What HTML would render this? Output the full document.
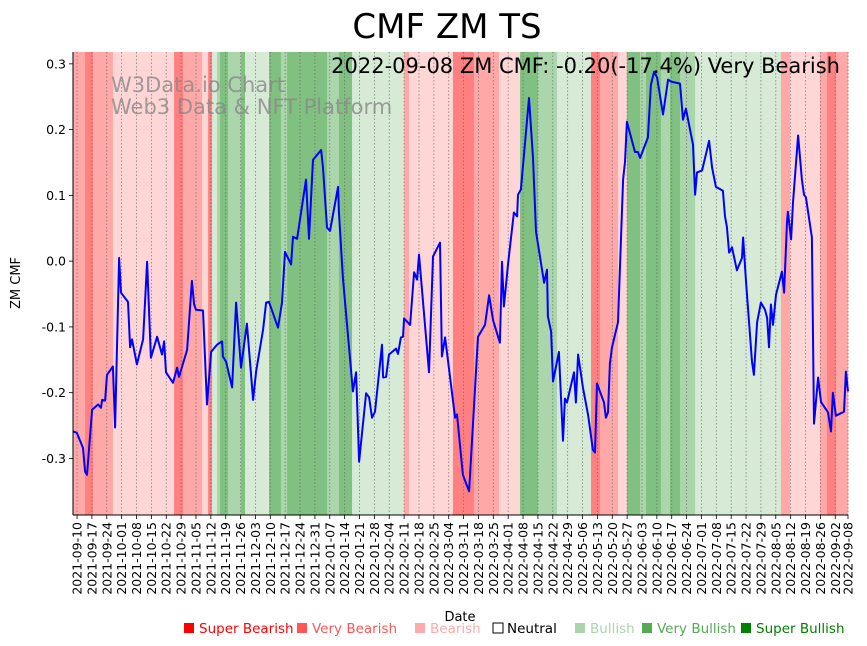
<!DOCTYPE html>
<html><head><meta charset="utf-8"><style>
body{margin:0;background:#fff;}
svg{display:block;font-family:"DejaVu Sans","Liberation Sans",sans-serif;}
</style></head><body>
<svg id="chart" width="867" height="646" viewBox="0 0 867 646" xmlns="http://www.w3.org/2000/svg">
<rect width="867" height="646" fill="#fff"/>
<g id="bands"></g>
<g id="grid"></g>
<g id="series"></g>
<g id="axes"></g>
<text x="447" y="38" text-anchor="middle" font-size="34">CMF ZM TS</text>
<text x="840" y="73" text-anchor="end" font-size="21">2022-09-08 ZM CMF: -0.20(-17.4%) Very Bearish</text>
<text x="111" y="92" font-size="21" fill="#888" fill-opacity="0.8">W3Data.io Chart</text>
<text x="111" y="114" font-size="21" fill="#888" fill-opacity="0.8">Web3 Data &amp; NFT Platform</text>
<text transform="translate(20,283) rotate(-90)" text-anchor="middle" font-size="13">ZM CMF</text>
<text x="460" y="621" text-anchor="middle" font-size="13">Date</text>
<g font-size="13.5">
<g><rect x="184" y="623" width="10" height="10" fill="#ff0000"/><text x="199" y="633" fill="#ff0000">Super Bearish</text></g>
<g><rect x="297" y="623" width="10" height="10" fill="#ff5555"/><text x="312" y="633" fill="#ff5555">Very Bearish</text></g>
<g><rect x="415" y="623" width="10" height="10" fill="#ffaaaa"/><text x="430" y="633" fill="#ffaaaa">Bearish</text></g>
<g><rect x="493" y="623" width="10" height="10" fill="#fff" stroke="#000"/><text x="507" y="633" fill="#000">Neutral</text></g>
<g><rect x="575" y="623" width="10" height="10" fill="#aad4aa"/><text x="590" y="633" fill="#aad4aa">Bullish</text></g>
<g><rect x="642" y="623" width="10" height="10" fill="#55aa55"/><text x="657" y="633" fill="#55aa55">Very Bullish</text></g>
<g><rect x="741" y="623" width="10" height="10" fill="#008000"/><text x="756" y="633" fill="#008000">Super Bullish</text></g>
</g>
</svg>
<script>
// day offsets from 2021-09-10
const days = [-1.7,-0.1,2.8,3.8,4.7,7.1,9.9,11.3,11.8,13.2,14.1,16.9,17.9,19.8,20.7,24.0,25.0,25.9,28.2,31.1,33.0,34.8,37.7,40.0,41.0,41.9,45.2,47.1,48.0,51.8,54.1,55.1,56.0,59.3,61.2,63.1,65.9,68.3,68.7,70.2,73.0,74.9,77.2,80.0,82.9,84.3,87.6,89.0,90.4,94.6,96.5,97.9,100.8,101.7,103.6,107.8,109.2,111.1,114.9,115.8,117.7,119.1,122.9,123.3,125.2,129.9,131.4,132.8,136.1,137.5,138.9,140.3,143.6,144.1,145.5,146.9,150.2,151.1,152.5,153.5,154.0,156.8,158.7,160.1,161.0,165.7,167.6,170.9,171.8,173.3,178.0,178.9,181.7,184.6,188.8,192.1,194.0,195.9,199.1,200.1,201.0,202.9,205.7,207.2,207.6,209.0,212.8,214.7,216.1,219.9,221.3,221.7,223.2,224.1,226.9,228.8,229.7,230.7,234.0,234.9,235.9,238.2,240.6,242.9,243.9,244.8,248.1,249.0,250.0,250.9,251.9,254.7,257.1,258.0,258.9,262.7,264.1,265.1,268.8,270.2,271.7,273.1,275.9,278.3,279.7,283.9,285.3,286.7,290.0,291.0,291.9,294.3,297.6,299.0,300.8,304.1,305.1,306.0,307.0,308.4,310.7,313.1,313.6,315.0,317.8,318.7,320.2,322.0,323.9,324.9,325.8,326.7,327.7,329.1,331.9,332.9,334.3,334.7,336.2,337.1,339.5,341.3,342.3,343.2,346.0,347.0,348.9,350.3,353.6,355.0,355.9,357.3,361.1,362.0,363.0];
const cmfValues = [-0.259,-0.261,-0.284,-0.320,-0.325,-0.226,-0.218,-0.223,-0.211,-0.212,-0.173,-0.160,-0.253,0.005,-0.048,-0.062,-0.131,-0.119,-0.157,-0.119,-0.001,-0.147,-0.115,-0.142,-0.122,-0.169,-0.185,-0.162,-0.176,-0.135,-0.030,-0.066,-0.074,-0.075,-0.218,-0.138,-0.127,-0.122,-0.145,-0.153,-0.192,-0.063,-0.162,-0.095,-0.211,-0.168,-0.104,-0.063,-0.062,-0.101,-0.063,0.014,-0.005,0.037,0.034,0.124,0.034,0.154,0.169,0.142,0.051,0.046,0.113,0.075,-0.025,-0.198,-0.169,-0.305,-0.201,-0.207,-0.238,-0.229,-0.127,-0.177,-0.176,-0.142,-0.133,-0.141,-0.116,-0.115,-0.087,-0.097,-0.017,-0.028,0.010,-0.169,0.007,0.028,-0.145,-0.116,-0.238,-0.233,-0.325,-0.350,-0.115,-0.097,-0.052,-0.090,-0.124,-0.001,-0.069,-0.005,0.074,0.068,0.101,0.109,0.248,0.157,0.045,-0.033,-0.013,-0.084,-0.107,-0.183,-0.138,-0.273,-0.209,-0.215,-0.169,-0.215,-0.142,-0.192,-0.233,-0.287,-0.291,-0.186,-0.215,-0.238,-0.230,-0.156,-0.131,-0.093,0.124,0.151,0.212,0.166,0.166,0.157,0.188,0.268,0.288,0.279,0.223,0.276,0.273,0.270,0.215,0.232,0.177,0.101,0.135,0.138,0.183,0.142,0.113,0.107,0.068,0.052,0.013,0.021,-0.014,0.005,0.036,-0.033,-0.153,-0.173,-0.093,-0.063,-0.074,-0.086,-0.131,-0.066,-0.097,-0.051,-0.016,-0.048,0.059,0.075,0.033,0.089,0.191,0.124,0.101,0.097,0.036,-0.247,-0.177,-0.214,-0.230,-0.259,-0.200,-0.235,-0.229,-0.168,-0.198];
// signal bands: end day and level (-3..3), start is previous end
const bandEnds = [3.8,7.5,16.9,45.7,49.9,58.9,61.7,63.6,65.9,67.3,71.1,77.2,79.1,90.4,96.0,98.9,117.7,123.3,129.5,154.0,156.3,177.0,186.9,198.7,208.6,217.0,226.0,242.0,246.2,254.7,258.9,265.1,267.9,274.9,279.2,283.9,291.0,331.4,335.7,349.8,353.1,357.3,363.0];
const bandLevels = [-2,-3,-2,-1,-3,-2,-1,-3,1,2,3,2,3,1,3,2,3,2,3,1,-2,-1,-3,-2,-1,3,2,1,-3,-2,-1,3,2,3,2,3,2,1,-2,-1,-2,-3,-2];
const yTicks = [-0.3,-0.2,-0.1,0.0,0.1,0.2,0.3];

const NS="http://www.w3.org/2000/svg";
const X0=73,X1=848,Y0=52,Y1=515,D0=-1.9,D1=363.0,V0=-0.386,V1=0.318;
function xs(d){return X0+(d-D0)/(D1-D0)*(X1-X0);}
function ys(v){return Y1-(v-V0)/(V1-V0)*(Y1-Y0);}
function mk(tag,attrs,parent){const e=document.createElementNS(NS,tag);for(const k in attrs)e.setAttribute(k,attrs[k]);parent.appendChild(e);return e;}
const colors={"-3":"#ff8080","-2":"#ffa8a8","-1":"#ffd6d6","1":"#d6ead6","2":"#abd5ab","3":"#80c080"};
const bands=document.getElementById('bands');
let start=D0;
bandEnds.forEach((end,i)=>{
  const r=mk('rect',{x:xs(start),y:Y0,width:Math.max(0,xs(end)-xs(start))+0.3,height:Y1-Y0,fill:colors[bandLevels[i]]},bands);
  
  
  start=end;
});
const grid=document.getElementById('grid'),axes=document.getElementById('axes');
const base=Date.UTC(2021,8,10);
const tickDays=[];for(let d=0;d<=357;d+=7)tickDays.push(d);tickDays.push(363);
tickDays.forEach(d=>{
  const x=xs(d);
  const gl=mk('line',{x1:x,x2:x,y1:Y0,y2:Y1,stroke:'#666','stroke-width':0.8,'stroke-dasharray':'1.5,2','stroke-opacity':0.8},grid);
  
  
  mk('line',{x1:x,x2:x,y1:Y1,y2:Y1+4,stroke:'#000','stroke-width':0.8},axes);
  const dt=new Date(base+d*86400000);
  const s=dt.toISOString().slice(0,10);
  const t=mk('text',{transform:`translate(${x+4.5},${Y1+7}) rotate(-90)`,'text-anchor':'end','font-size':12.5},axes);
  t.textContent=s;
  
  
});
yTicks.forEach(v=>{
  const y=ys(v);
  mk('line',{x1:X0-4,x2:X0,y1:y,y2:y,stroke:'#000','stroke-width':0.8},axes);
  const t=mk('text',{x:X0-7,y:y+4.5,'text-anchor':'end','font-size':12.5},axes);
  t.textContent=v.toFixed(1);
  
  
});
const ax1=mk('line',{x1:X0,x2:X0,y1:Y0,y2:Y1,stroke:'#000','stroke-width':1},axes);


const ax2=mk('line',{x1:X0,x2:X1,y1:Y1,y2:Y1,stroke:'#000','stroke-width':1},axes);


const pts=days.map((d,i)=>xs(d).toFixed(1)+','+ys(cmfValues[i]).toFixed(1)).join(' ');
const line=mk('polyline',{points:pts,fill:'none',stroke:'#0000ff','stroke-width':2,'stroke-linejoin':'round'},document.getElementById('series'));


</script>
</body></html>
